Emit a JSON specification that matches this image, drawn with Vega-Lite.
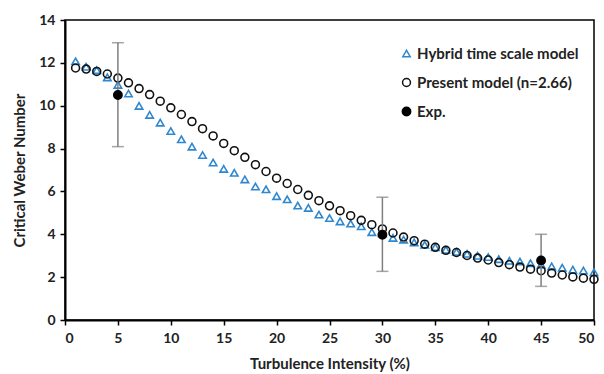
{
  "$schema": "https://vega.github.io/schema/vega-lite/v6.json",
  "width": 529,
  "height": 300,
  "autosize": "none",
  "padding": {"left": 65, "top": 20, "right": 10, "bottom": 54},
  "background": "white",
  "config": {
    "font": "Lato",
    "view": {"stroke": "#000", "strokeWidth": 1.5},
    "axis": {
      "grid": false,
      "domainColor": "#000",
      "domainWidth": 2,
      "tickColor": "#000",
      "tickWidth": 1.5,
      "tickSize": 5,
      "labelFont": "Lato",
      "labelFontWeight": "bold",
      "labelFontSize": 14,
      "labelColor": "#222",
      "titleFont": "Lato",
      "titleFontWeight": "bold",
      "titleFontSize": 15,
      "titleColor": "#222"
    }
  },
  "datasets": {
    "models": [
      {"x": 1, "y": 12.07, "series": "Hybrid time scale model"},
      {"x": 2, "y": 11.82, "series": "Hybrid time scale model"},
      {"x": 3, "y": 11.66, "series": "Hybrid time scale model"},
      {"x": 4, "y": 11.32, "series": "Hybrid time scale model"},
      {"x": 5, "y": 10.97, "series": "Hybrid time scale model"},
      {"x": 6, "y": 10.57, "series": "Hybrid time scale model"},
      {"x": 7, "y": 9.99, "series": "Hybrid time scale model"},
      {"x": 8, "y": 9.57, "series": "Hybrid time scale model"},
      {"x": 9, "y": 9.21, "series": "Hybrid time scale model"},
      {"x": 10, "y": 8.82, "series": "Hybrid time scale model"},
      {"x": 11, "y": 8.43, "series": "Hybrid time scale model"},
      {"x": 12, "y": 8.09, "series": "Hybrid time scale model"},
      {"x": 13, "y": 7.7, "series": "Hybrid time scale model"},
      {"x": 14, "y": 7.35, "series": "Hybrid time scale model"},
      {"x": 15, "y": 7.05, "series": "Hybrid time scale model"},
      {"x": 16, "y": 6.87, "series": "Hybrid time scale model"},
      {"x": 17, "y": 6.56, "series": "Hybrid time scale model"},
      {"x": 18, "y": 6.23, "series": "Hybrid time scale model"},
      {"x": 19, "y": 6.1, "series": "Hybrid time scale model"},
      {"x": 20, "y": 5.78, "series": "Hybrid time scale model"},
      {"x": 21, "y": 5.63, "series": "Hybrid time scale model"},
      {"x": 22, "y": 5.34, "series": "Hybrid time scale model"},
      {"x": 23, "y": 5.23, "series": "Hybrid time scale model"},
      {"x": 24, "y": 4.92, "series": "Hybrid time scale model"},
      {"x": 25, "y": 4.76, "series": "Hybrid time scale model"},
      {"x": 26, "y": 4.6, "series": "Hybrid time scale model"},
      {"x": 27, "y": 4.5, "series": "Hybrid time scale model"},
      {"x": 28, "y": 4.37, "series": "Hybrid time scale model"},
      {"x": 29, "y": 4.1, "series": "Hybrid time scale model"},
      {"x": 30, "y": 4.05, "series": "Hybrid time scale model"},
      {"x": 31, "y": 3.83, "series": "Hybrid time scale model"},
      {"x": 32, "y": 3.75, "series": "Hybrid time scale model"},
      {"x": 33, "y": 3.62, "series": "Hybrid time scale model"},
      {"x": 34, "y": 3.51, "series": "Hybrid time scale model"},
      {"x": 35, "y": 3.4, "series": "Hybrid time scale model"},
      {"x": 36, "y": 3.28, "series": "Hybrid time scale model"},
      {"x": 37, "y": 3.18, "series": "Hybrid time scale model"},
      {"x": 38, "y": 3.09, "series": "Hybrid time scale model"},
      {"x": 39, "y": 3.0, "series": "Hybrid time scale model"},
      {"x": 40, "y": 2.94, "series": "Hybrid time scale model"},
      {"x": 41, "y": 2.84, "series": "Hybrid time scale model"},
      {"x": 42, "y": 2.76, "series": "Hybrid time scale model"},
      {"x": 43, "y": 2.73, "series": "Hybrid time scale model"},
      {"x": 44, "y": 2.65, "series": "Hybrid time scale model"},
      {"x": 45, "y": 2.58, "series": "Hybrid time scale model"},
      {"x": 46, "y": 2.5, "series": "Hybrid time scale model"},
      {"x": 47, "y": 2.44, "series": "Hybrid time scale model"},
      {"x": 48, "y": 2.35, "series": "Hybrid time scale model"},
      {"x": 49, "y": 2.31, "series": "Hybrid time scale model"},
      {"x": 50, "y": 2.23, "series": "Hybrid time scale model"},
      {"x": 1, "y": 11.76, "series": "Present model (n=2.66)"},
      {"x": 2, "y": 11.71, "series": "Present model (n=2.66)"},
      {"x": 3, "y": 11.6, "series": "Present model (n=2.66)"},
      {"x": 4, "y": 11.48, "series": "Present model (n=2.66)"},
      {"x": 5, "y": 11.29, "series": "Present model (n=2.66)"},
      {"x": 6, "y": 11.07, "series": "Present model (n=2.66)"},
      {"x": 7, "y": 10.8, "series": "Present model (n=2.66)"},
      {"x": 8, "y": 10.52, "series": "Present model (n=2.66)"},
      {"x": 9, "y": 10.21, "series": "Present model (n=2.66)"},
      {"x": 10, "y": 9.9, "series": "Present model (n=2.66)"},
      {"x": 11, "y": 9.59, "series": "Present model (n=2.66)"},
      {"x": 12, "y": 9.26, "series": "Present model (n=2.66)"},
      {"x": 13, "y": 8.93, "series": "Present model (n=2.66)"},
      {"x": 14, "y": 8.59, "series": "Present model (n=2.66)"},
      {"x": 15, "y": 8.24, "series": "Present model (n=2.66)"},
      {"x": 16, "y": 7.9, "series": "Present model (n=2.66)"},
      {"x": 17, "y": 7.59, "series": "Present model (n=2.66)"},
      {"x": 18, "y": 7.25, "series": "Present model (n=2.66)"},
      {"x": 19, "y": 6.93, "series": "Present model (n=2.66)"},
      {"x": 20, "y": 6.62, "series": "Present model (n=2.66)"},
      {"x": 21, "y": 6.37, "series": "Present model (n=2.66)"},
      {"x": 22, "y": 6.09, "series": "Present model (n=2.66)"},
      {"x": 23, "y": 5.82, "series": "Present model (n=2.66)"},
      {"x": 24, "y": 5.57, "series": "Present model (n=2.66)"},
      {"x": 25, "y": 5.33, "series": "Present model (n=2.66)"},
      {"x": 26, "y": 5.1, "series": "Present model (n=2.66)"},
      {"x": 27, "y": 4.87, "series": "Present model (n=2.66)"},
      {"x": 28, "y": 4.65, "series": "Present model (n=2.66)"},
      {"x": 29, "y": 4.45, "series": "Present model (n=2.66)"},
      {"x": 30, "y": 4.25, "series": "Present model (n=2.66)"},
      {"x": 31, "y": 4.06, "series": "Present model (n=2.66)"},
      {"x": 32, "y": 3.87, "series": "Present model (n=2.66)"},
      {"x": 33, "y": 3.7, "series": "Present model (n=2.66)"},
      {"x": 34, "y": 3.54, "series": "Present model (n=2.66)"},
      {"x": 35, "y": 3.39, "series": "Present model (n=2.66)"},
      {"x": 36, "y": 3.25, "series": "Present model (n=2.66)"},
      {"x": 37, "y": 3.15, "series": "Present model (n=2.66)"},
      {"x": 38, "y": 3.01, "series": "Present model (n=2.66)"},
      {"x": 39, "y": 2.89, "series": "Present model (n=2.66)"},
      {"x": 40, "y": 2.8, "series": "Present model (n=2.66)"},
      {"x": 41, "y": 2.68, "series": "Present model (n=2.66)"},
      {"x": 42, "y": 2.58, "series": "Present model (n=2.66)"},
      {"x": 43, "y": 2.47, "series": "Present model (n=2.66)"},
      {"x": 44, "y": 2.37, "series": "Present model (n=2.66)"},
      {"x": 45, "y": 2.3, "series": "Present model (n=2.66)"},
      {"x": 46, "y": 2.19, "series": "Present model (n=2.66)"},
      {"x": 47, "y": 2.1, "series": "Present model (n=2.66)"},
      {"x": 48, "y": 2.01, "series": "Present model (n=2.66)"},
      {"x": 49, "y": 1.95, "series": "Present model (n=2.66)"},
      {"x": 50, "y": 1.9, "series": "Present model (n=2.66)"}
    ],
    "exp": [
      {"x": 5, "y": 10.5, "low": 8.09, "high": 12.94, "series": "Exp."},
      {"x": 30, "y": 3.98, "low": 2.27, "high": 5.73, "series": "Exp."},
      {"x": 45, "y": 2.78, "low": 1.57, "high": 4.0, "series": "Exp."}
    ]
  },
  "layer": [
    {
      "data": {"name": "models"},
      "mark": {"type": "point", "strokeWidth": 1.6, "opacity": 1},
      "encoding": {
        "x": {"field": "x", "type": "quantitative", "scale": {"domain": [0, 50], "nice": false},
              "axis": {"values": [0, 5, 10, 15, 20, 25, 30, 35, 40, 45, 50], "title": "Turbulence Intensity (%)", "titlePadding": 11, "labelPadding": 6}},
        "y": {"field": "y", "type": "quantitative", "scale": {"domain": [0, 14], "nice": false},
              "axis": {"values": [0, 2, 4, 6, 8, 10, 12, 14], "title": "Critical Weber Number", "titlePadding": 11, "labelPadding": 5}},
        "shape": {"field": "series", "type": "nominal",
                  "scale": {"domain": ["Hybrid time scale model", "Present model (n=2.66)", "Exp."], "range": ["triangle-up", "circle", "circle"]},
                  "legend": {"title": null, "orient": "none", "legendX": 334, "legendY": 26, "labelFontSize": 15, "labelLimit": 400, "labelFont": "Lato", "labelFontWeight": "bold", "labelColor": "#222", "rowPadding": 13, "labelOffset": 3, "symbolStrokeWidth": 1.5}},
        "stroke": {"field": "series", "type": "nominal",
                   "scale": {"domain": ["Hybrid time scale model", "Present model (n=2.66)", "Exp."], "range": ["#2f88cf", "#111111", "#000000"]}},
        "fill": {"field": "series", "type": "nominal",
                 "scale": {"domain": ["Hybrid time scale model", "Present model (n=2.66)", "Exp."], "range": ["transparent", "transparent", "#000000"]}},
        "size": {"field": "series", "type": "nominal",
                 "scale": {"domain": ["Hybrid time scale model", "Present model (n=2.66)", "Exp."], "range": [55, 70, 150]}}
      }
    },
    {
      "data": {"name": "exp"},
      "mark": {"type": "rule", "color": "#7f7f7f", "strokeWidth": 1.5},
      "encoding": {
        "x": {"field": "x", "type": "quantitative"},
        "y": {"field": "low", "type": "quantitative"},
        "y2": {"field": "high"}
      }
    },
    {
      "data": {"name": "exp"},
      "mark": {"type": "tick", "orient": "horizontal", "color": "#7f7f7f", "size": 12, "thickness": 1.5},
      "encoding": {
        "x": {"field": "x", "type": "quantitative"},
        "y": {"field": "low", "type": "quantitative"}
      }
    },
    {
      "data": {"name": "exp"},
      "mark": {"type": "tick", "orient": "horizontal", "color": "#7f7f7f", "size": 12, "thickness": 1.5},
      "encoding": {
        "x": {"field": "x", "type": "quantitative"},
        "y": {"field": "high", "type": "quantitative"}
      }
    },
    {
      "data": {"name": "exp"},
      "mark": {"type": "point", "strokeWidth": 1.5, "opacity": 1},
      "encoding": {
        "x": {"field": "x", "type": "quantitative"},
        "y": {"field": "y", "type": "quantitative"},
        "shape": {"field": "series", "type": "nominal"},
        "stroke": {"field": "series", "type": "nominal"},
        "fill": {"field": "series", "type": "nominal"},
        "size": {"field": "series", "type": "nominal"}
      }
    }
  ]
}
